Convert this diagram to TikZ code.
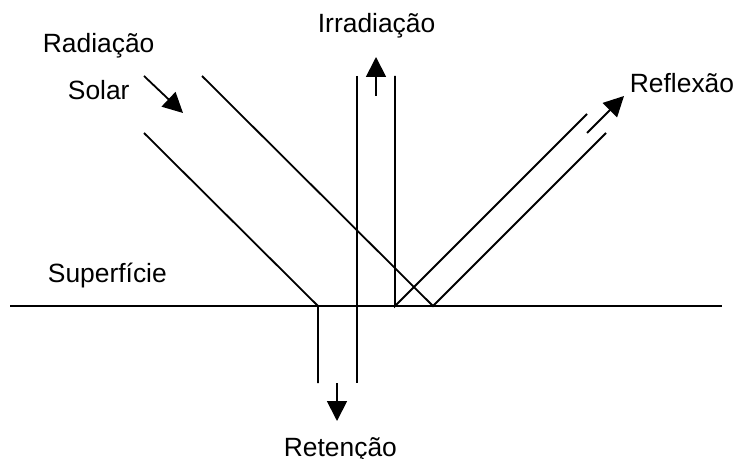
\documentclass[tikz,border=0pt]{standalone}
\usepackage{fontspec}
\setmainfont{Liberation Sans}
\usepackage{tikz}
\usetikzlibrary{arrows.meta}
\tikzset{
  >={Triangle[length=10pt,width=10pt]},
  lbl/.style={anchor=base west,inner sep=0pt,font=\fontsize{13.2}{16}\selectfont},
  ray/.style={line width=0.9pt},
  every picture/.style={line width=0.9pt},
}
\begin{document}
\begin{tikzpicture}[x=0.5pt,y=-0.5pt]
\useasboundingbox (0,0) rectangle (737,459);
\foreach \n/\x/\y in {S1/10/306,S2/722/306,A1/144/133,A2/202/76,P1/318/306,P2/395/306,P3/433/306,
  R1/318/383,R2/357/383,I1/357/76,I2/395/76,F1/587/114,F2/606/133}{\coordinate (\n) at (\x,\y);}
\foreach \n/\x/\y in {sa/144/76,sb/183/113,ia/376/96,ib/376/57,ra/337/383,rb/337/421,fa/587/133,fb/624/96}{\coordinate (\n) at (\x,\y);}
\node[lbl] (rad) at (42,53) {Radiação};
\node[lbl] (sol) at (67,100) {Solar};
\node[lbl] (irr) at (317,33) {Irradiação};
\node[lbl] (ref) at (629,93) {Reflexão};
\node[lbl] (sup) at (47,283) {Superfície};
\node[lbl] (ret) at (283,456) {Retenção};
\draw[ray] (S1)--(S2);
\draw[ray] (A1)--(P1)--(R1); \draw[ray] (A2)--(P3)--(F2);
\draw[ray] (I1)--(R2); \draw[ray] (I2)--(P2)--(F1);
\draw[->] (sa)--(sb); \draw[->] (ia)--(ib);
\draw[->] (ra)--(rb); \draw[->] (fa)--(fb);
\end{tikzpicture}
\end{document}
